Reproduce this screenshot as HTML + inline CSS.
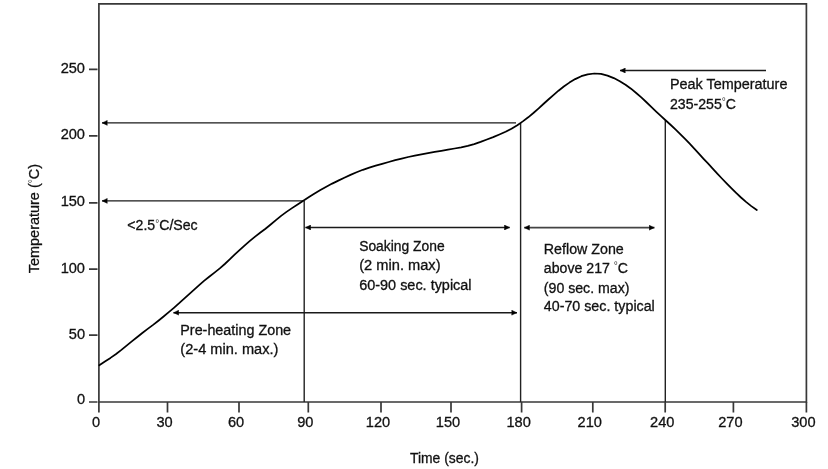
<!DOCTYPE html>
<html><head><meta charset="utf-8"><title>Reflow Profile</title><style>
html,body{margin:0;padding:0;background:#fff;width:828px;height:469px;overflow:hidden}
svg{display:block;will-change:transform}
text{font-family:"Liberation Sans",sans-serif;font-size:14px;fill:#111;stroke:#111;stroke-width:0.3px}
.n text{font-size:14.6px}
</style></head><body>
<svg width="828" height="469" viewBox="0 0 828 469">
<defs>
<marker id="ah" viewBox="0 0 10 10" refX="10" refY="5" markerWidth="5.6" markerHeight="5.6" markerUnits="userSpaceOnUse" orient="auto-start-reverse">
<path d="M0.6,0.7 L9.4,5 L0.6,9.3 L1.0,5 Z" fill="#000" stroke="#000" stroke-width="1" stroke-linejoin="round"/>
</marker>
</defs>
<g fill="none" stroke="#383838" stroke-width="1.7">
<path d="M98.9,3.9 H806.4 V402 H98.9 Z"/>
<path d="M89,69.4 H97.5 M89,135.9 H97.5 M89,202.8 H97.5 M89,269.1 H97.5 M89,335.2 H97.5 M89,402 H97.5"/>
<path d="M98.9,402 V412.6 M167.5,402 V412.6 M239,402 V412.6 M308.3,402 V412.6 M381,402 V412.6 M451,402 V412.6 M521.6,402 V412.6 M592.8,402 V412.6 M665.2,402 V412.6 M733.4,402 V412.6 M806.4,402 V412.6"/>
</g>
<g fill="none" stroke="#222" stroke-width="1.4">
<path d="M304.2,201 V402 M520.6,123 V402 M665.3,120.5 V402"/>
</g>
<g fill="none" stroke="#1a1a1a" stroke-width="1.4">
<path d="M516,122.9 H102" marker-end="url(#ah)"/>
<path d="M303,200.9 H102" marker-end="url(#ah)"/>
<path d="M173.4,312.7 H517" marker-start="url(#ah)" marker-end="url(#ah)"/>
<path d="M305.4,227.5 H509.7" marker-start="url(#ah)" marker-end="url(#ah)"/>
<path d="M524.2,227.7 H654.5" marker-start="url(#ah)" marker-end="url(#ah)" stroke="#444" stroke-width="1.8"/>
<path d="M766,70.5 H620" marker-end="url(#ah)"/>
</g>
<path d="M99.3,365.3 L104.9,361.5 L110.5,357.9 L116.1,354.0 L121.4,349.9 L126.6,345.6 L131.8,341.4 L137.0,337.2 L142.3,333.0 L147.7,328.9 L153.1,324.9 L158.4,320.7 L163.6,316.5 L168.8,312.2 L173.9,307.8 L178.9,303.4 L183.9,298.8 L188.9,294.3 L193.9,289.8 L198.9,285.3 L204.0,280.9 L209.2,276.7 L214.5,272.6 L219.8,268.4 L224.8,264.0 L229.7,259.3 L234.6,254.7 L239.5,250.1 L244.5,245.6 L249.6,241.2 L254.8,236.9 L260.1,232.8 L265.5,228.7 L270.7,224.5 L275.9,220.2 L281.1,215.9 L286.5,211.9 L292.0,208.1 L297.6,204.4 L303.3,200.8 L309.0,197.1 L314.6,193.5 L320.4,190.0 L326.3,186.7 L332.2,183.6 L338.3,180.6 L344.3,177.7 L350.5,174.9 L356.6,172.3 L362.9,169.8 L369.3,167.7 L375.7,165.7 L382.2,163.8 L388.7,162.0 L395.2,160.2 L401.7,158.6 L408.2,157.0 L414.8,155.6 L421.4,154.3 L428.0,153.1 L434.7,151.9 L441.3,150.8 L448.0,149.7 L454.6,148.5 L461.2,147.3 L467.8,145.9 L474.2,144.1 L480.6,141.9 L486.9,139.5 L493.2,137.1 L499.4,134.5 L505.6,131.8 L511.5,128.7 L517.3,125.2 L522.8,121.4 L528.2,117.3 L533.4,113.0 L538.4,108.6 L543.4,104.0 L548.4,99.5 L553.4,95.1 L558.5,90.7 L563.8,86.5 L569.4,82.6 L575.2,79.1 L581.3,76.2 L587.7,74.3 L594.3,73.5 L601.0,73.9 L607.5,75.6 L613.8,78.1 L619.8,81.3 L625.5,84.8 L631.0,88.7 L636.2,93.0 L641.3,97.4 L646.2,102.0 L651.0,106.7 L655.9,111.4 L660.8,115.9 L665.8,120.5 L670.8,125.0 L675.7,129.6 L680.5,134.3 L685.3,139.1 L689.9,143.9 L694.5,148.8 L699.1,153.8 L703.6,158.8 L708.2,163.7 L712.7,168.7 L717.3,173.6 L721.9,178.5 L726.6,183.4 L731.3,188.2 L736.1,192.9 L741.0,197.5 L746.0,201.9 L751.3,206.1 L756.8,210.0" fill="none" stroke="#000" stroke-width="1.75" stroke-linejoin="round" stroke-linecap="round"/>
<g class="n" text-anchor="end">
<text x="85" y="72.8">250</text>
<text x="85" y="139.3">200</text>
<text x="85" y="206.2">150</text>
<text x="85" y="272.5">100</text>
<text x="85" y="338.6">50</text>
<text x="85" y="403.8">0</text>
</g>
<g class="n" text-anchor="middle">
<text x="96" y="427">0</text>
<text x="164.5" y="427">30</text>
<text x="236" y="427">60</text>
<text x="305.3" y="427">90</text>
<text x="378" y="427">120</text>
<text x="448" y="427">150</text>
<text x="518.6" y="427">180</text>
<text x="589.8" y="427">210</text>
<text x="662.2" y="427">240</text>
<text x="730.4" y="427">270</text>
<text x="803.4" y="427">300</text>
</g>
<text x="670" y="88.6" textLength="117.4" lengthAdjust="spacingAndGlyphs">Peak Temperature</text>
<text x="670" y="108.6" textLength="66.0" lengthAdjust="spacingAndGlyphs">235-255<tspan font-size="10" dy="-3.5" style="stroke:none;fill:#444">°</tspan><tspan dy="3.5">C</tspan></text>
<text x="127.3" y="230.3" textLength="70.3" lengthAdjust="spacingAndGlyphs">&lt;2.5<tspan font-size="10" dy="-3.5" style="stroke:none;fill:#444">°</tspan><tspan dy="3.5">C</tspan>/Sec</text>
<text x="359.2" y="251" textLength="85.4" lengthAdjust="spacingAndGlyphs">Soaking Zone</text>
<text x="359.2" y="270.2" textLength="81.4" lengthAdjust="spacingAndGlyphs">(2 min. max)</text>
<text x="359.2" y="289.7" textLength="112.4" lengthAdjust="spacingAndGlyphs">60-90 sec. typical</text>
<text x="180.3" y="335.1" textLength="110.8" lengthAdjust="spacingAndGlyphs">Pre-heating Zone</text>
<text x="180.3" y="353.5" textLength="98.1" lengthAdjust="spacingAndGlyphs">(2-4 min. max.)</text>
<text x="543.8" y="254.1" textLength="80.0" lengthAdjust="spacingAndGlyphs">Reflow Zone</text>
<text x="543.8" y="272.8" textLength="84.3" lengthAdjust="spacingAndGlyphs">above 217 <tspan font-size="10" dy="-3.5" style="stroke:none;fill:#444">°</tspan><tspan dy="3.5">C</tspan></text>
<text x="543.8" y="292.5" textLength="85.7" lengthAdjust="spacingAndGlyphs">(90 sec. max)</text>
<text x="543.8" y="311.2" textLength="111.0" lengthAdjust="spacingAndGlyphs">40-70 sec. typical</text>
<text x="410" y="462.8" textLength="68.9" lengthAdjust="spacingAndGlyphs">Time (sec.)</text>
<text transform="translate(39.2,273.2) rotate(-90)" textLength="109.3" lengthAdjust="spacingAndGlyphs">Temperature (<tspan font-size="10" dy="-3.5" style="stroke:none;fill:#444">°</tspan><tspan dy="3.5">C)</tspan></text>
</svg>
</body></html>
